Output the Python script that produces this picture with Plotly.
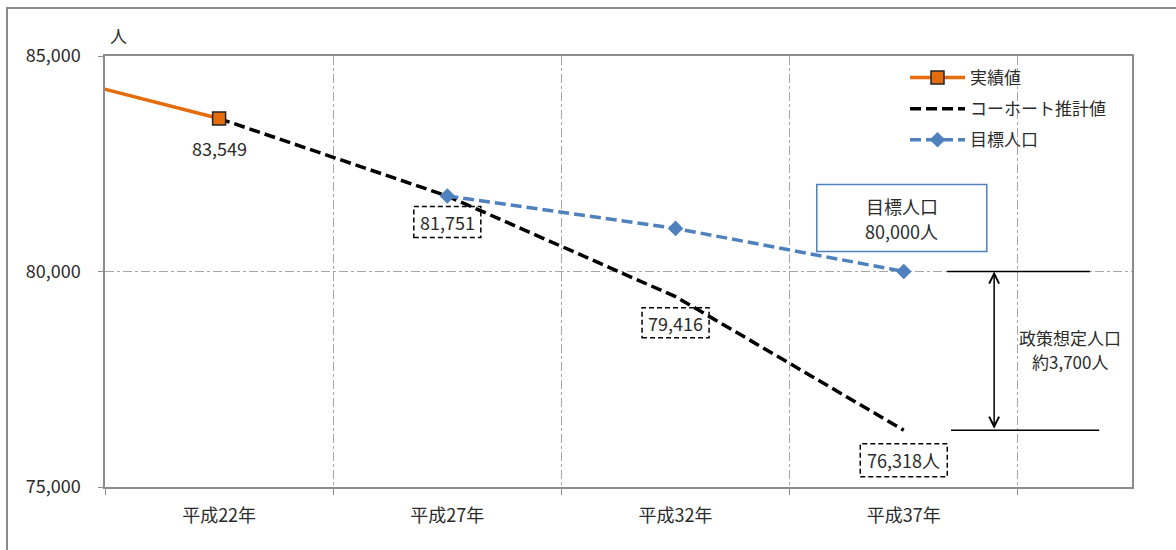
import plotly.graph_objects as go

# ---- data ----
categories = ["平成22年", "平成27年", "平成32年", "平成37年"]
cat_pos = [0, 1, 2, 3]

actual_x = [-1, 0]            # 平成17年 (clipped at left edge), 平成22年
actual_vals = [84905, 83549]

cohort_x = [0, 1, 2, 3]
cohort_vals = [83549, 81751, 79416, 76318]

target_x = [1, 2, 3]
target_vals = [81751, 81000, 80000]

y_ticks = [75000, 80000, 85000]
y_ticktext = ["75,000", "80,000", "85,000"]

FONT = "Noto Sans CJK JP"
TXT = "#2b2b2b"
ORANGE = "#E46C0A"
BLUE = "#4F81BD"

W, H = 1176, 550
L, R, T, B = 105, 44, 56, 63
PW, PH = W - L - R, H - T - B


def px_to_paper_x(px):
    return (px - L) / PW


def px_to_paper_y(py):
    return (H - B - py) / PH


fig = go.Figure()

fig.add_trace(go.Scatter(
    x=cohort_x, y=cohort_vals, mode="lines", name="コーホート推計値",
    line=dict(color="black", width=3.5, dash="11px,5px"),
    legendgroup="b", legendrank=2, hoverinfo="skip"))

fig.add_trace(go.Scatter(
    x=target_x, y=target_vals, mode="lines+markers", name="目標人口",
    line=dict(color=BLUE, width=3.5, dash="11px,5px"),
    marker=dict(symbol="diamond", size=12, color=BLUE),
    legendgroup="c", legendrank=3, hoverinfo="skip"))

fig.add_trace(go.Scatter(
    x=actual_x, y=actual_vals, mode="lines+markers", name="実績値",
    line=dict(color=ORANGE, width=3.5),
    marker=dict(symbol="square", size=13, color=ORANGE,
                line=dict(color="#262626", width=1.5)),
    legendgroup="a", legendrank=1, hoverinfo="skip"))

shapes = []
annotations = []

# data label for 83,549 (no box)
annotations.append(dict(x=actual_x[1], y=actual_vals[1], text=f"{actual_vals[1]:,}",
                        showarrow=False, yshift=-29, font=dict(size=18, color=TXT)))

# boxed cohort labels
box_specs = [  # (index in cohort arrays, suffix, yshift, width, height)
    (1, "", -26, 67, 31),
    (2, "", -26, 67, 30),
    (3, "人", -30, 87, 33),
]
for idx, suffix, ys, bw, bh in box_specs:
    xv, yv = cohort_x[idx], cohort_vals[idx]
    annotations.append(dict(x=xv, y=yv, text=f"{yv:,}{suffix}", showarrow=False,
                            yshift=ys, font=dict(size=18, color=TXT)))
    shapes.append(dict(type="rect", xref="x", yref="y", xsizemode="pixel",
                       ysizemode="pixel", xanchor=xv, yanchor=yv,
                       x0=-bw / 2, x1=bw / 2, y0=ys - bh / 2, y1=ys + bh / 2,
                       line=dict(color="black", width=1.5, dash="5px,3px"),
                       fillcolor="rgba(0,0,0,0)"))

# 目標人口 box
tx, ty = target_x[-1], target_vals[-1]
shapes.append(dict(type="rect", xref="x", yref="y", xsizemode="pixel",
                   ysizemode="pixel", xanchor=tx, yanchor=ty,
                   x0=-87, x1=83, y0=20, y1=87,
                   line=dict(color=BLUE, width=1.5), fillcolor="white"))
annotations.append(dict(x=tx, y=ty, text="目標人口", showarrow=False,
                        xshift=-2, yshift=66, font=dict(size=18, color=TXT)))
annotations.append(dict(x=tx, y=ty, text="80,000人", showarrow=False,
                        xshift=-2, yshift=41, font=dict(size=18, color=TXT)))

# bracket lines for 政策想定人口
shapes.append(dict(type="line", xref="x", yref="y", x0=3.19, x1=3.816,
                   y0=target_vals[-1], y1=target_vals[-1],
                   line=dict(color="black", width=1.5)))
shapes.append(dict(type="line", xref="x", yref="y", x0=3.207, x1=3.856,
                   y0=cohort_vals[-1], y1=cohort_vals[-1],
                   line=dict(color="black", width=1.5)))
annotations.append(dict(x=3.396, y=target_vals[-1], ax=3.396, ay=cohort_vals[-1],
                        axref="x", ayref="y", xref="x", yref="y", text="",
                        showarrow=True, arrowside="end+start", arrowhead=5,
                        startarrowhead=5, arrowsize=1.3, startarrowsize=1.3,
                        arrowwidth=1.5, arrowcolor="black", standoff=0,
                        startstandoff=0))
mid_y = (target_vals[-1] + cohort_vals[-1]) / 2
annotations.append(dict(x=3.729, y=mid_y, text="政策想定人口", showarrow=False,
                        yshift=13, font=dict(size=17, color=TXT)))
annotations.append(dict(x=3.729, y=mid_y, text="約3,700人", showarrow=False,
                        yshift=-11, font=dict(size=17, color=TXT)))

# unit label
annotations.append(dict(xref="paper", yref="paper", x=px_to_paper_x(118),
                        y=px_to_paper_y(35), xanchor="center", yanchor="middle",
                        text="人", showarrow=False,
                        font=dict(size=17, color=TXT)))

# outer chart frame
shapes.append(dict(type="rect", xref="paper", yref="paper",
                   x0=px_to_paper_x(7), x1=px_to_paper_x(1185),
                   y0=px_to_paper_y(560), y1=px_to_paper_y(8),
                   line=dict(color="#8c8c8c", width=2), fillcolor="rgba(0,0,0,0)"))

fig.update_layout(
    width=W, height=H,
    margin=dict(l=L, r=R, t=T, b=B),
    paper_bgcolor="white", plot_bgcolor="white",
    font=dict(family=FONT, size=18, color=TXT),
    showlegend=True,
    legend=dict(x=px_to_paper_x(905), y=px_to_paper_y(60), xanchor="left",
                yanchor="top", bgcolor="rgba(255,255,255,0)",
                font=dict(size=17, color=TXT), itemwidth=55,
                tracegroupgap=6, traceorder="grouped"),
    shapes=shapes,
    annotations=annotations,
)

fig.update_xaxes(
    range=[-0.5, 4.0], tickvals=cat_pos, ticktext=categories, ticks="",
    showgrid=False, zeroline=False, showline=True, mirror=True,
    linecolor="#8c8c8c", linewidth=1.5, ticklabelstandoff=12,
    tickfont=dict(size=18, color=TXT),
    minor=dict(tick0=0.5, dtick=1, ticks="outside", ticklen=6,
               tickcolor="#8c8c8c", showgrid=True, gridcolor="#a6a6a6",
               griddash="dashdot", gridwidth=1),
)

fig.update_yaxes(
    range=[75000, 85000], tickvals=y_ticks, ticktext=y_ticktext,
    ticks="outside", ticklen=5, tickcolor="#8c8c8c",
    showgrid=True, gridcolor="#a6a6a6", griddash="dashdot", gridwidth=1,
    zeroline=False, showline=True, mirror=True, linecolor="#8c8c8c",
    linewidth=1.5, ticklabelstandoff=14, tickfont=dict(size=18, color=TXT),
)

fig.write_html("out.html")
